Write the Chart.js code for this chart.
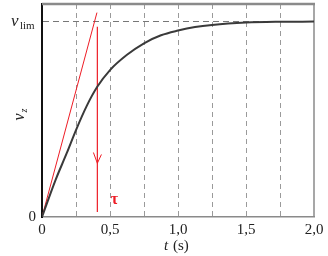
<!DOCTYPE html>
<html><head><meta charset="utf-8">
<script src="https://cdn.jsdelivr.net/npm/chart.js@4/dist/chart.umd.min.js"></script>
<style>html,body{margin:0;padding:0;background:#fff}#wrap{width:328px;height:256px}</style>
</head><body><div id="wrap"><canvas id="c"></canvas></div>
<script>
// time (s) and velocity (fraction of v_lim)
const tValues = [0, 0.1, 0.181, 0.25, 0.33, 0.405, 0.5, 0.625, 0.75, 0.875, 1.0, 1.125, 1.25, 1.5, 1.75, 2.0];
const vValues = [0, 0.19, 0.325, 0.445, 0.57, 0.665, 0.752, 0.83, 0.889, 0.93, 0.954, 0.972, 0.983, 0.995, 0.999, 1.0];
// red tangent at origin
const tangentT = [0, 0.404];
const tangentV = [0, 1.046];
// red vertical marker at tau
const markerT = [0.407, 0.407];
const markerV = [0.026, 0.974];
// red arrow head
const arrowT = [0.378, 0.407, 0.437];
const arrowV = [0.33, 0.275, 0.32];
// ticks
const xTickValues = [0, 0.5, 1.0, 1.5, 2.0];
const xTickLabels = ['0', '0,5', '1,0', '1,5', '2,0'];
const yTickValues = [0, 1];
const yTickLabels = ['0', ''];
const tauT = 0.533, tauV = 0.09;

const pts = (xs, ys) => xs.map((x, i) => ({x, y: ys[i]}));
const RED = '#ee1c25';
const SERIF = '"Liberation Serif", "DejaVu Serif", serif';

const decor = {
  id: 'decor',
  beforeDatasetsDraw(chart) {
    const {ctx, chartArea: a} = chart;
    ctx.save();
    ctx.strokeStyle = '#8a8a8a';
    ctx.lineWidth = 2.5;
    ctx.beginPath(); ctx.moveTo(a.left, a.top); ctx.lineTo(a.right + 1, a.top); ctx.stroke();
    ctx.lineWidth = 1.5;
    ctx.beginPath(); ctx.moveTo(a.right, a.top); ctx.lineTo(a.right, a.bottom); ctx.stroke();
    ctx.restore();
  },
  afterDraw(chart) {
    const {ctx, chartArea: a, scales: {x, y}} = chart;
    ctx.save();
    ctx.fillStyle = '#222';
    ctx.textBaseline = 'alphabetic';
    // v_lim label
    const yl = y.getPixelForValue(1);
    ctx.font = 'italic 17px ' + SERIF;
    ctx.textAlign = 'left';
    ctx.fillText('v', 11, yl + 4);
    ctx.font = '11px ' + SERIF;
    ctx.fillText('lim', 20, yl + 7);
    // y title v_z
    ctx.translate(24, (a.top + a.bottom) / 2 + 4);
    ctx.rotate(-Math.PI / 2);
    ctx.font = 'italic 16px ' + SERIF;
    ctx.textAlign = 'left';
    ctx.fillText('v', -6, 0);
    ctx.font = 'italic 10px ' + SERIF;
    ctx.fillText('z', 2, 3);
    ctx.setTransform(1, 0, 0, 1, 0, 0);
    // x title
    const cx = (a.left + a.right) / 2;
    ctx.font = 'italic 15px ' + SERIF;
    ctx.textAlign = 'left';
    ctx.fillText('t', cx - 14, 250);
    ctx.font = '15px ' + SERIF;
    ctx.fillText('(s)', cx - 5, 250);
    // tau
    ctx.fillStyle = RED;
    ctx.font = 'bold 16px ' + SERIF;
    ctx.textAlign = 'center';
    ctx.textBaseline = 'middle';
    ctx.fillText('τ', x.getPixelForValue(tauT), y.getPixelForValue(tauV));
    ctx.restore();
  }
};

new Chart(document.getElementById('c'), {
  type: 'scatter',
  data: {
    datasets: [
      {data: pts(tValues, vValues), showLine: true, borderColor: '#3a3a3a', borderWidth: 2, pointRadius: 0, cubicInterpolationMode: 'monotone'},
      {data: pts(tangentT, tangentV), showLine: true, borderColor: RED, borderWidth: 1, pointRadius: 0},
      {data: pts(markerT, markerV), showLine: true, borderColor: RED, borderWidth: 1.2, pointRadius: 0},
      {data: pts(arrowT, arrowV), showLine: true, borderColor: RED, borderWidth: 1, pointRadius: 0}
    ]
  },
  options: {
    responsive: true, maintainAspectRatio: false, animation: false,
    layout: {padding: {top: 4, right: 14, left: 0, bottom: 0}},
    plugins: {legend: {display: false}, tooltip: {enabled: false}},
    scales: {
      x: {
        type: 'linear', min: 0, max: 2,
        afterFit: s => { s.height = 39; s.paddingLeft = 0; s.paddingRight = 0; },
        ticks: {
          stepSize: 0.25, autoSkip: false, maxRotation: 0, padding: 4,
          color: '#222', font: {family: SERIF, size: 15},
          callback: v => { const i = xTickValues.findIndex(t => Math.abs(t - v) < 1e-6); return i >= 0 ? xTickLabels[i] : ''; }
        },
        grid: {
          drawTicks: false, lineWidth: 1,
          color: c => (c.tick && (c.tick.value === 0 || Math.abs(c.tick.value - 2) < 1e-6)) ? 'rgba(0,0,0,0)' : '#9a9a9a'
        },
        border: {display: true, color: '#8a8a8a', width: 1.5, dash: [5, 4]}
      },
      y: {
        type: 'linear', min: 0, max: 1.09,
        afterFit: s => { s.width = 42; s.paddingTop = 0; s.paddingBottom = 0; },
        afterBuildTicks: s => { s.ticks = yTickValues.map(v => ({value: v})); },
        ticks: {
          padding: 6, color: '#222', font: {family: SERIF, size: 15},
          callback: v => { const i = yTickValues.indexOf(v); return i >= 0 ? yTickLabels[i] : ''; }
        },
        grid: {
          drawTicks: false, lineWidth: 1,
          color: c => (c.tick && c.tick.value === 1) ? '#777' : 'rgba(0,0,0,0)'
        },
        border: {display: true, color: '#111', width: 2, dash: [6, 4]}
      }
    }
  },
  plugins: [decor]
});
</script></body></html>
